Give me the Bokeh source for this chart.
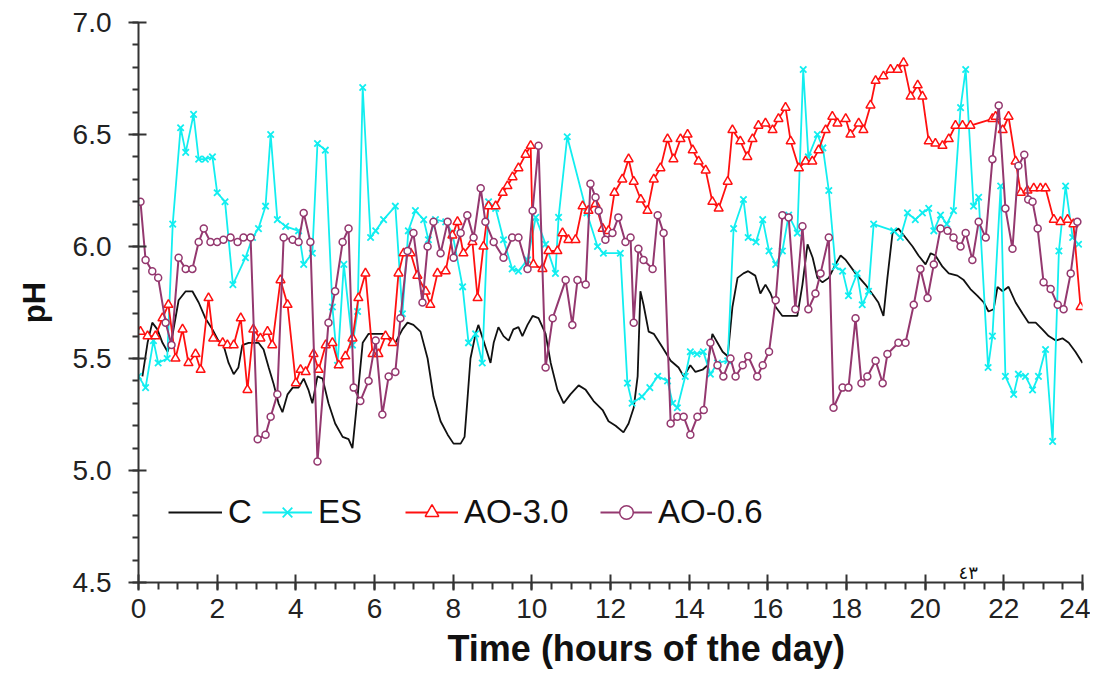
from bokeh.plotting import figure
from bokeh.models import (Range1d, SingleIntervalTicker, Legend, LegendItem,
                          PrintfTickFormatter, Label, Title)
from bokeh.embed import file_html
from bokeh.resources import INLINE

# ---------------- data (hours of the day, pH) ----------------
C_T = [0.1, 0.23, 0.35, 0.48, 0.61, 0.74, 0.86, 1.02, 1.2, 1.37,
       1.53, 1.7, 1.88, 2.03, 2.16, 2.29, 2.42, 2.54, 2.64, 2.8,
       3.05, 3.18, 3.31, 3.43, 3.56, 3.66, 3.79, 3.92, 4.07, 4.2,
       4.32, 4.42, 4.55, 4.68, 4.83, 5.0, 5.19, 5.34, 5.44, 5.57,
       5.7, 5.85, 6.03, 6.23, 6.41, 6.53, 6.71, 6.84, 6.99, 7.17,
       7.35, 7.5, 7.68, 7.86, 8.01, 8.19, 8.29, 8.36, 8.44, 8.57,
       8.64, 8.77, 8.95, 9.03, 9.15, 9.28, 9.41, 9.53, 9.66, 9.76,
       9.89, 10.02, 10.17, 10.35, 10.48, 10.65, 10.81, 10.98, 11.19, 11.37,
       11.57, 11.8, 11.95, 12.13, 12.33, 12.46, 12.59, 12.69, 12.76, 12.84,
       12.97, 13.1, 13.32, 13.53, 13.73, 13.86, 14.03, 14.16, 14.34, 14.47,
       14.59, 14.72, 14.85, 14.98, 15.1, 15.23, 15.38, 15.5, 15.68, 15.81,
       15.94, 16.07, 16.2, 16.37, 16.53, 16.75, 16.88, 17.01, 17.14, 17.26,
       17.39, 17.55, 17.72, 17.85, 17.98, 18.23, 18.48, 18.69, 18.81, 18.94,
       19.04, 19.17, 19.32, 19.5, 19.68, 19.83, 20.01, 20.14, 20.26, 20.44,
       20.6, 20.82, 20.98, 21.15, 21.33, 21.49, 21.61, 21.74, 21.84, 21.97,
       22.12, 22.3, 22.48, 22.63, 22.81, 22.98, 23.14, 23.32, 23.49, 23.65,
       23.82, 24.0]
C_PH = [5.42, 5.57, 5.66, 5.63, 5.57, 5.53, 5.60, 5.76, 5.80, 5.80,
        5.75, 5.68, 5.63, 5.58, 5.56, 5.48, 5.43, 5.46, 5.56, 5.57,
        5.57, 5.54, 5.46, 5.39, 5.30, 5.26, 5.34, 5.37, 5.37, 5.41,
        5.36, 5.30, 5.42, 5.41, 5.30, 5.21, 5.15, 5.14, 5.10, 5.33,
        5.57, 5.61, 5.61, 5.61, 5.59, 5.57, 5.63, 5.66, 5.65, 5.62,
        5.50, 5.33, 5.22, 5.16, 5.12, 5.12, 5.15, 5.31, 5.50, 5.61,
        5.65, 5.58, 5.48, 5.57, 5.64, 5.60, 5.58, 5.63, 5.64, 5.60,
        5.65, 5.69, 5.68, 5.61, 5.48, 5.36, 5.30, 5.34, 5.38, 5.36,
        5.31, 5.27, 5.22, 5.20, 5.17, 5.21, 5.28, 5.42, 5.80, 5.74,
        5.62, 5.61, 5.55, 5.49, 5.46, 5.42, 5.47, 5.44, 5.45, 5.47,
        5.61, 5.57, 5.53, 5.51, 5.73, 5.86, 5.88, 5.89, 5.87, 5.79,
        5.83, 5.79, 5.73, 5.69, 5.69, 5.69, 5.83, 6.01, 5.95, 5.86,
        5.84, 5.86, 5.92, 5.96, 5.94, 5.88, 5.83, 5.78, 5.75, 5.69,
        5.86, 6.06, 6.08, 6.04, 6.00, 5.96, 5.92, 5.97, 5.96, 5.91,
        5.88, 5.87, 5.85, 5.81, 5.78, 5.75, 5.71, 5.72, 5.82, 5.80,
        5.82, 5.75, 5.70, 5.66, 5.66, 5.63, 5.60, 5.58, 5.59, 5.57,
        5.53, 5.48]

ES_T = [0.0, 0.18, 0.38, 0.5, 0.73, 0.87, 1.07, 1.2, 1.4, 1.53,
        1.7, 1.88, 2.0, 2.2, 2.4, 2.72, 2.9, 3.05, 3.23, 3.36,
        3.53, 3.74, 4.07, 4.2, 4.42, 4.55, 4.75, 4.93, 5.06, 5.22,
        5.44, 5.57, 5.70, 5.9, 6.03, 6.23, 6.53, 6.71, 6.86, 7.04,
        7.25, 7.37, 7.55, 7.81, 7.98, 8.24, 8.39, 8.57, 8.74, 8.9,
        9.08, 9.28, 9.5, 9.66, 9.89, 10.1, 10.35, 10.6, 10.68, 10.9,
        11.4, 11.67, 11.82, 12.25, 12.43, 12.55, 12.8, 13.0, 13.2, 13.45,
        13.58, 13.7, 13.9, 14.03, 14.2, 14.36, 14.54, 14.72, 14.98, 15.13,
        15.38, 15.5, 15.7, 15.87, 16.03, 16.2, 16.37, 16.53, 16.75, 16.9,
        17.03, 17.26, 17.4, 17.55, 17.72, 17.9, 18.05, 18.27, 18.4, 18.56,
        18.69, 19.2, 19.37, 19.55, 19.75, 19.93, 20.09, 20.22, 20.39, 20.55,
        20.72, 20.9, 21.03, 21.23, 21.36, 21.6, 21.71, 21.92, 22.04, 22.25,
        22.37, 22.55, 22.73, 22.88, 23.06, 23.24, 23.4, 23.57, 23.75, 23.9]
ES_PH = [5.42, 5.37, 5.58, 5.48, 5.50, 6.10, 6.53, 6.42, 6.59, 6.39,
         6.39, 6.40, 6.24, 6.20, 5.83, 5.95, 6.04, 6.08, 6.18, 6.50,
         6.12, 6.09, 6.07, 5.92, 5.97, 6.46, 6.43, 5.73, 5.47, 5.92,
         5.56, 5.71, 6.71, 6.04, 6.07, 6.12, 6.18, 5.70, 6.07, 6.16,
         6.12, 6.03, 6.12, 6.11, 6.06, 5.82, 5.57, 5.61, 5.48, 6.20,
         6.17, 6.03, 5.90, 5.89, 5.94, 6.13, 6.01, 5.88, 6.13, 6.49,
         6.15, 6.00, 5.97, 5.97, 5.39, 5.30, 5.33, 5.37, 5.42, 5.40,
         5.30, 5.28, 5.42, 5.53, 5.52, 5.53, 5.43, 5.48, 5.49, 6.08,
         6.21, 6.04, 6.02, 6.12, 5.98, 5.92, 5.98, 6.14, 6.06, 6.79,
         6.40, 6.50, 6.44, 6.25, 5.91, 5.89, 5.78, 5.88, 5.74, 5.80,
         6.10, 6.07, 6.04, 6.15, 6.12, 6.15, 6.17, 6.07, 6.14, 6.10,
         6.16, 6.62, 6.79, 6.18, 6.22, 5.46, 5.60, 6.27, 5.42, 5.34,
         5.43, 5.42, 5.36, 5.42, 5.54, 5.13, 5.98, 6.27, 6.04, 6.01]

AO30_T = [0.05, 0.23, 0.43, 0.61, 0.76, 0.94, 1.12, 1.27, 1.45, 1.58,
          1.78, 1.9, 2.14, 2.26, 2.42, 2.6, 2.77, 2.92, 3.1, 3.28,
          3.4, 3.61, 3.79, 4.0, 4.12, 4.25, 4.45, 4.58, 4.76, 4.93,
          5.09, 5.26, 5.44, 5.59, 5.77, 5.95, 6.1, 6.28, 6.46, 6.61,
          6.74, 6.92, 7.09, 7.3, 7.42, 7.6, 7.81, 7.98, 8.11, 8.26,
          8.49, 8.62, 8.77, 8.9, 9.08, 9.26, 9.38, 9.51, 9.66, 9.84,
          9.97, 10.04, 10.27, 10.42, 10.65, 10.78, 10.93, 11.11, 11.29, 11.44,
          11.62, 11.8, 11.95, 12.1, 12.3, 12.46, 12.59, 12.77, 12.94, 13.1,
          13.27, 13.45, 13.6, 13.78, 13.96, 14.09, 14.24, 14.42, 14.59, 14.75,
          14.98, 15.1, 15.3, 15.48, 15.61, 15.76, 15.94, 16.12, 16.27, 16.45,
          16.58, 16.79, 16.96, 17.13, 17.29, 17.47, 17.64, 17.77, 17.98, 18.1,
          18.31, 18.43, 18.61, 18.74, 18.94, 19.12, 19.3, 19.45, 19.63, 19.81,
          19.93, 20.09, 20.26, 20.44, 20.6, 20.77, 20.95, 21.15, 21.71, 21.79,
          21.97, 22.12, 22.3, 22.43, 22.6, 22.76, 22.93, 23.06, 23.27, 23.44,
          23.62, 23.77, 23.95]
AO30_PH = [5.62, 5.60, 5.60, 5.68, 5.74, 5.50, 5.63, 5.48, 5.52, 5.45,
           5.77, 5.59, 5.57, 5.56, 5.56, 5.68, 5.36, 5.63, 5.59, 5.62,
           5.56, 5.85, 5.74, 5.39, 5.45, 5.44, 5.52, 5.45, 5.56, 5.57,
           5.47, 5.51, 5.59, 5.77, 5.88, 5.52, 5.52, 5.60, 5.57, 5.88,
           5.97, 5.97, 5.87, 5.80, 5.74, 5.88, 5.89, 6.05, 6.11, 5.97,
           6.02, 5.77, 6.00, 6.18, 6.18, 6.24, 6.27, 6.31, 6.35, 6.41,
           6.45, 5.92, 5.90, 5.98, 5.98, 6.06, 6.03, 6.03, 6.18, 6.16,
           6.19, 6.08, 6.07, 6.24, 6.30, 6.39, 6.29, 6.21, 6.16, 6.30,
           6.35, 6.48, 6.39, 6.48, 6.50, 6.43, 6.38, 6.34, 6.20, 6.17,
           6.29, 6.52, 6.47, 6.40, 6.48, 6.54, 6.55, 6.52, 6.57, 6.62,
           6.47, 6.35, 6.38, 6.38, 6.43, 6.52, 6.58, 6.55, 6.57, 6.50,
           6.55, 6.52, 6.63, 6.74, 6.76, 6.79, 6.79, 6.82, 6.67, 6.72,
           6.67, 6.47, 6.46, 6.45, 6.48, 6.54, 6.54, 6.54, 6.57, 6.58,
           6.52, 6.58, 6.38, 6.24, 6.25, 6.26, 6.26, 6.26, 6.12, 6.11,
           6.12, 6.10, 5.73]

AO06_T = [0.05, 0.18, 0.35, 0.5, 0.69, 0.84, 1.02, 1.2, 1.37, 1.53,
          1.66, 1.83, 2.0, 2.16, 2.34, 2.52, 2.67, 2.85, 3.03, 3.23,
          3.36, 3.53, 3.69, 3.92, 4.07, 4.2, 4.37, 4.55, 4.83, 5.0,
          5.19, 5.34, 5.47, 5.64, 5.85, 6.03, 6.2, 6.36, 6.53, 6.66,
          6.84, 6.99, 7.22, 7.35, 7.5, 7.68, 7.86, 8.01, 8.19, 8.36,
          8.52, 8.7, 8.82, 9.03, 9.28, 9.5, 9.66, 9.89, 10.02, 10.17,
          10.35, 10.53, 10.86, 11.03, 11.16, 11.37, 11.49, 11.62, 11.7, 11.87,
          12.05, 12.2, 12.38, 12.51, 12.59, 12.71, 12.84, 13.07, 13.2, 13.35,
          13.53, 13.7, 13.86, 14.03, 14.21, 14.37, 14.54, 14.72, 14.87, 15.05,
          15.18, 15.36, 15.5, 15.73, 15.87, 16.03, 16.2, 16.37, 16.53, 16.7,
          16.88, 17.03, 17.21, 17.34, 17.55, 17.67, 17.9, 18.05, 18.23, 18.38,
          18.53, 18.74, 18.92, 19.04, 19.32, 19.5, 19.71, 19.88, 20.06, 20.22,
          20.39, 20.57, 20.72, 20.9, 21.03, 21.2, 21.36, 21.54, 21.71, 21.87,
          22.04, 22.22, 22.37, 22.52, 22.62, 22.73, 22.86, 23.01, 23.19, 23.37,
          23.52, 23.7, 23.87]
AO06_PH = [6.20, 5.94, 5.89, 5.86, 5.66, 5.56, 5.95, 5.90, 5.90, 6.02,
           6.08, 6.02, 6.02, 6.03, 6.04, 6.02, 6.04, 6.04, 5.14, 5.16,
           5.24, 5.34, 6.04, 6.03, 6.02, 6.15, 6.02, 5.04, 5.66, 5.80,
           6.02, 6.08, 5.37, 5.31, 5.40, 5.58, 5.25, 5.42, 5.44, 5.68,
           5.98, 6.06, 5.75, 6.00, 6.11, 5.97, 6.11, 5.95, 6.06, 6.14,
           6.04, 6.26, 6.11, 6.02, 5.95, 6.04, 6.04, 5.90, 6.16, 6.45,
           5.46, 5.68, 5.85, 5.65, 5.85, 5.83, 6.28, 6.22, 6.16, 6.03,
           6.06, 6.13, 6.02, 6.04, 5.66, 5.99, 5.94, 5.90, 6.14, 6.06,
           5.21, 5.24, 5.24, 5.16, 5.24, 5.27, 5.57, 5.47, 5.42, 5.50,
           5.42, 5.47, 5.51, 5.42, 5.47, 5.53, 5.76, 6.14, 6.13, 5.72,
           6.09, 5.72, 5.79, 5.88, 6.04, 5.28, 5.37, 5.37, 5.68, 5.39,
           5.42, 5.49, 5.39, 5.52, 5.57, 5.57, 5.74, 5.90, 5.77, 5.92,
           6.08, 6.07, 6.04, 6.00, 6.06, 5.94, 6.11, 6.04, 6.39, 6.63,
           6.17, 5.99, 6.36, 6.41, 6.21, 6.20, 6.08, 5.84, 5.81, 5.74,
           5.72, 5.88, 6.11]

SERIES_NAMES = ["C", "ES", "AO-3.0", "AO-0.6"]
X_LABEL = "Time (hours of the day)"
Y_LABEL = "pH"

# ---------------- figure ----------------
p = figure(width=1090, height=673, output_backend="svg", toolbar_location=None,
           x_range=Range1d(0, 24), y_range=Range1d(4.5, 7.0),
           min_border_left=138, min_border_right=8, min_border_top=22,
           min_border_bottom=91)
p.outline_line_color = None
p.xgrid.visible = False
p.ygrid.visible = False
p.background_fill_color = "white"
p.border_fill_color = "white"

black = "#111111"
cyan = "#12eef0"
red = "#ff1010"
purple = "#94386f"

r_c = p.line(C_T, C_PH, line_color=black, line_width=1.8)

r_es_l = p.line(ES_T, ES_PH, line_color=cyan, line_width=1.8)
r_es_m = p.scatter(ES_T, ES_PH, marker="x", size=9, line_color=cyan, line_width=1.8)

r_a3_l = p.line(AO30_T, AO30_PH, line_color=red, line_width=1.8)
r_a3_m = p.scatter(AO30_T, AO30_PH, marker="triangle", size=9, line_color=red,
                   fill_color="white", line_width=1.5)

r_a6_l = p.line(AO06_T, AO06_PH, line_color=purple, line_width=2)
r_a6_m = p.scatter(AO06_T, AO06_PH, marker="circle", size=7, line_color=purple,
                   fill_color="white", line_width=1.5)

# ---------------- axes ----------------
tick_font = "Liberation Sans"
p.xaxis.ticker = SingleIntervalTicker(interval=2, num_minor_ticks=4)
p.yaxis.ticker = SingleIntervalTicker(interval=0.5, num_minor_ticks=5)
p.yaxis.formatter = PrintfTickFormatter(format="%.1f")
for ax in (p.xaxis, p.yaxis):
    ax.axis_line_color = "#333333"
    ax.axis_line_width = 2
    ax.major_tick_line_color = "#333333"
    ax.major_tick_line_width = 2
    ax.minor_tick_line_color = "#333333"
    ax.minor_tick_line_width = 2
    ax.major_label_text_font = tick_font
    ax.major_label_text_font_size = "28px"
    ax.major_label_text_color = "#222222"

p.xaxis.major_tick_in = 8
p.xaxis.major_tick_out = 8
p.xaxis.minor_tick_in = 0
p.xaxis.minor_tick_out = 7
p.xaxis.major_label_standoff = 8

p.yaxis.major_tick_in = 8
p.yaxis.major_tick_out = 10
p.yaxis.minor_tick_in = 0
p.yaxis.minor_tick_out = 6
p.yaxis.major_label_standoff = 17
p.yaxis.axis_label = Y_LABEL
p.yaxis.axis_label_text_font = tick_font
p.yaxis.axis_label_text_font_style = "bold"
p.yaxis.axis_label_text_font_size = "31px"
p.yaxis.axis_label_text_color = "#111111"
p.yaxis.axis_label_standoff = 18

# x-axis title, placed slightly right of centre like the original
p.add_layout(Title(text=X_LABEL, align="left", offset=309, standoff=10,
                   text_font=tick_font, text_font_style="bold",
                   text_font_size="36px", text_color="#111111"), "below")

# ---------------- legends (one row, four entries) ----------------
legend_specs = [
    (SERIES_NAMES[0], [r_c], 30, 54),
    (SERIES_NAMES[1], [r_es_l, r_es_m], 124, 50),
    (SERIES_NAMES[2], [r_a3_l, r_a3_m], 267, 53),
    (SERIES_NAMES[3], [r_a6_l, r_a6_m], 462, 52),
]
for name, rends, lx, gw in legend_specs:
    leg = Legend(items=[LegendItem(label=name, renderers=rends)],
                 location=(lx, 51), orientation="horizontal",
                 glyph_width=gw, glyph_height=34, label_height=34,
                 label_standoff=6, padding=0, margin=0, spacing=0,
                 border_line_color=None, background_fill_alpha=0,
                 label_text_font=tick_font, label_text_font_size="33px",
                 label_text_color="#111111")
    p.add_layout(leg, "center")

# page number of the scanned original
p.add_layout(Label(x=820, y=0, x_units="screen", y_units="screen", text="٤٣",
                   text_font="DejaVu Sans", text_font_size="18px",
                   text_color="#111111", text_baseline="bottom"))

open("out.html", "w").write(file_html(p, INLINE))
